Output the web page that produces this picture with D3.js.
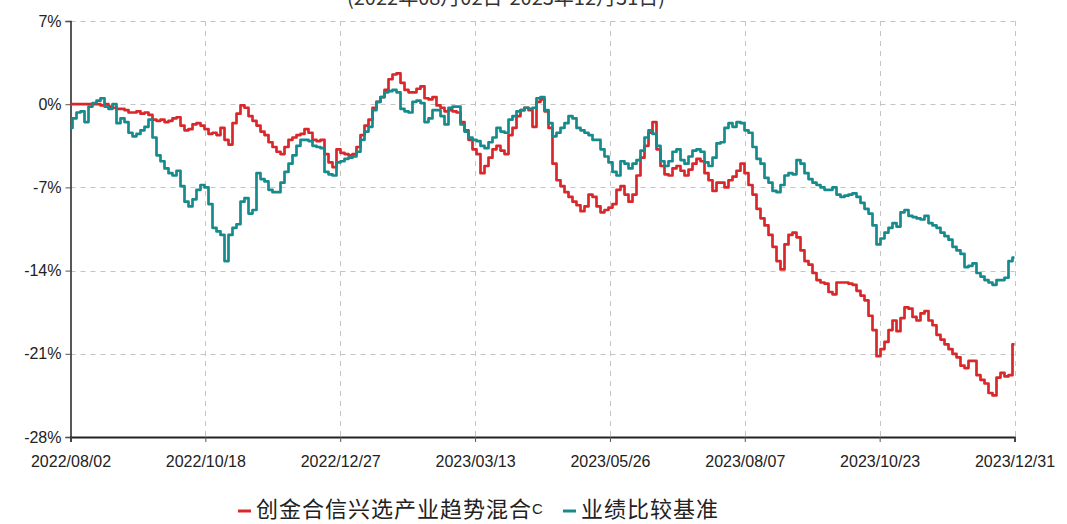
<!DOCTYPE html>
<html><head><meta charset="utf-8">
<script src="https://cdn.jsdelivr.net/npm/d3@7"></script>
<style>
html,body{margin:0;padding:0;background:#fff;overflow:hidden;}
svg{display:block;}
</style></head>
<body>
<svg id="chart" width="1067" height="524"></svg>
<script>
const titleText = "(2022年08月02日-2023年12月31日)";
const seriesNames = ["创金合信兴选产业趋势混合", "业绩比较基准"];
const tickLabels = ["2022/08/02","2022/10/18","2022/12/27","2023/03/13","2023/05/26","2023/08/07","2023/10/23","2023/12/31"];
const yTicks = [7, 0, -7, -14, -21, -28];

const fundValues = [
0,0,0,0,0,0,0,0,-0.1,0,
-0.2,-0.3,-0.4,-0.4,-0.5,-0.7,-0.7,-0.6,-0.8,-0.7,
-0.9,-1.3,-1.4,-1.3,-1.5,-1.4,-1.2,-1.1,-1.8,-2.2,
-2.1,-1.7,-1.6,-1.8,-2.1,-2.5,-2.4,-2.6,-2.0,-3.0,
-3.4,-1.6,-0.8,-0.1,-0.3,-1.0,-1.4,-1.8,-2.3,-2.6,
-3.2,-3.6,-4.0,-4.2,-3.6,-3.0,-2.8,-2.6,-2.5,-2.1,
-2.4,-3.0,-3.1,-3.0,-4.2,-4.9,-5.3,-3.8,-4.1,-4.2,
-4.3,-4.2,-3.6,-2.6,-1.8,-1.3,-0.3,0.2,0.6,1.2,
2.1,2.5,2.6,1.8,1.2,1.0,1.0,1.3,1.5,0.5,
0.4,0.6,-0.1,-0.3,-0.6,-0.5,-0.6,-0.7,-1.5,-2.2,
-3.0,-3.8,-4.2,-5.8,-5.2,-4.5,-3.8,-3.5,-3.9,-4.2,
-2.6,-2.0,-1.0,-0.5,-0.3,-0.5,-1.9,0.2,0.4,-0.6,
-2.0,-5.0,-6.4,-6.9,-7.4,-7.8,-8.2,-8.5,-9.0,-8.6,
-7.6,-7.8,-8.6,-9.1,-8.9,-8.7,-8.4,-7.2,-6.9,-7.6,
-8.2,-7.6,-6.0,-4.5,-3.5,-2.4,-1.5,-3.8,-5.2,-5.9,
-6.0,-5.4,-5.2,-5.6,-6.0,-5.5,-5.0,-4.6,-4.8,-5.8,
-6.4,-7.3,-6.6,-6.6,-7.0,-6.4,-6.1,-5.6,-5.0,-5.8,
-6.8,-7.6,-8.8,-9.6,-10.2,-11.0,-12.0,-13.2,-13.9,-11.8,
-11.0,-10.8,-11.2,-12.3,-13.2,-13.5,-14.2,-14.8,-15.0,-15.1,
-15.8,-16.0,-15.0,-15.0,-15.0,-15.1,-15.2,-15.7,-16.1,-16.5,
-17.8,-19.0,-21.2,-20.6,-20.0,-19.0,-18.2,-19.1,-18.0,-17.1,
-17.2,-17.9,-18.2,-17.6,-17.4,-18.2,-18.6,-19.4,-19.8,-20.2,
-20.6,-21.0,-21.3,-22.0,-22.2,-21.6,-21.6,-22.8,-23.2,-23.5,
-24.3,-24.5,-23.0,-22.6,-22.9,-22.8,-20.2
];

const benchValues = [
-2.0,-1.2,-0.7,-0.6,-1.5,-0.2,0.1,0.3,0.5,-0.2,
-0.4,0.0,-1.6,-1.2,-1.5,-2.4,-2.7,-2.5,-2.2,-1.9,
-1.3,-2.8,-4.3,-4.8,-5.4,-5.8,-6.0,-5.6,-6.9,-8.2,
-8.6,-8.0,-7.2,-6.8,-7.0,-8.4,-10.4,-10.7,-11.0,-13.2,
-11.0,-10.4,-10.1,-8.2,-7.9,-9.2,-8.9,-5.8,-6.3,-6.5,
-7.2,-7.4,-7.4,-6.6,-5.7,-5.0,-4.3,-3.5,-3.0,-3.0,
-3.1,-3.5,-3.6,-3.7,-5.7,-5.9,-6.0,-4.9,-4.8,-4.6,
-4.5,-4.4,-4.0,-3.0,-2.3,-1.9,-0.5,0.2,0.6,1.0,
1.1,1.2,1.0,-0.4,-0.6,-0.7,0.2,0.3,0.1,-1.5,
-1.2,-0.5,-0.5,-1.0,-1.7,-0.3,-0.2,-0.2,-1.7,-2.3,
-2.8,-3.0,-3.1,-3.5,-3.7,-3.2,-2.8,-2.0,-2.3,-2.4,
-1.3,-1.0,-0.6,-0.5,-0.3,-0.4,-0.3,0.5,0.6,-0.5,
-1.6,-2.7,-2.4,-2.0,-1.6,-1.0,-1.2,-2.0,-2.2,-2.4,
-2.6,-3.0,-3.0,-3.8,-4.4,-4.9,-5.7,-6.0,-4.8,-5.0,
-5.4,-5.0,-4.7,-3.9,-2.8,-2.2,-2.5,-3.5,-4.8,-5.2,
-4.8,-4.0,-3.8,-4.7,-5.0,-4.4,-3.9,-3.8,-4.0,-4.9,
-5.2,-4.5,-3.3,-3.2,-2.0,-1.6,-1.9,-1.5,-1.6,-2.2,
-2.4,-3.6,-4.6,-5.0,-6.2,-6.6,-7.3,-7.4,-6.8,-6.0,
-5.8,-5.9,-4.7,-5.0,-5.8,-6.3,-6.6,-6.8,-7.0,-7.2,
-7.2,-7.0,-7.6,-7.8,-7.7,-7.6,-7.5,-7.8,-8.3,-8.8,
-9.2,-10.2,-11.8,-11.3,-10.8,-10.4,-10.0,-10.3,-9.1,-8.9,
-9.4,-9.5,-9.6,-9.7,-9.4,-10.0,-10.2,-10.4,-10.8,-11.1,
-11.4,-12.0,-12.3,-12.6,-13.7,-13.6,-13.4,-14.2,-14.5,-14.8,
-15.0,-15.2,-14.8,-14.8,-14.6,-13.2,-12.9
];

const colors = ["#d8282b", "#178b8b"];
const W = 1067, H = 524;
const margin = {left: 70.5, right: 52.5, top: 21, bottom: 87};
const svg = d3.select("#chart");
const font = "Arial, 'Liberation Sans', sans-serif";
const cjk = "'Noto Sans CJK SC', sans-serif";

const N = fundValues.length;
const x = d3.scaleLinear().domain([0, N - 1]).range([margin.left, W - margin.right]);
const y = d3.scaleLinear().domain([-28, 7]).range([H - margin.bottom, margin.top]);

const tickIdx = tickLabels.map((d, i) => i * (N - 1) / (tickLabels.length - 1));

// grid
const grid = svg.append("g");
grid.selectAll("line.h").data(yTicks.filter(v => v !== -28)).enter().append("line")
  .attr("x1", margin.left).attr("x2", W - margin.right)
  .attr("y1", d => Math.round(y(d)) + 0.5).attr("y2", d => Math.round(y(d)) + 0.5)
  .attr("stroke", "#c4c4c4").attr("stroke-width", 1).attr("stroke-dasharray", "5,5");
grid.selectAll("line.v").data(tickIdx.slice(1)).enter().append("line")
  .attr("x1", d => Math.round(x(d)) + 0.5).attr("x2", d => Math.round(x(d)) + 0.5)
  .attr("y1", margin.top).attr("y2", H - margin.bottom)
  .attr("stroke", "#c4c4c4").attr("stroke-width", 1).attr("stroke-dasharray", "5,5");

// axes
const yAxis = d3.axisLeft(y).tickValues(yTicks).tickFormat(d => d + "%").tickSize(5).tickPadding(4);
const gy = svg.append("g").attr("transform", `translate(${margin.left},0)`).call(yAxis);
gy.select(".domain").attr("stroke", "#222").attr("stroke-width", 1.5);
gy.selectAll(".tick line").attr("stroke", "#555");
gy.selectAll("text").attr("font-family", font).attr("font-size", 16).attr("fill", "#222");

const xAxis = d3.axisBottom(x).tickValues(tickIdx).tickFormat((d, i) => tickLabels[i]).tickSize(5).tickPadding(14);
const gx = svg.append("g").attr("transform", `translate(0,${H - margin.bottom})`).call(xAxis);
gx.select(".domain").attr("stroke", "#222").attr("stroke-width", 1.8);
gx.selectAll(".tick line").attr("stroke", "#555");
gx.selectAll("text").attr("font-family", font).attr("font-size", 16).attr("fill", "#222");

// lines
const line = d3.line().x((d, i) => x(i)).y(d => y(d)).curve(d3.curveStep);
[fundValues, benchValues].forEach((vals, k) => {
  svg.append("path").datum(vals).attr("d", line)
    .attr("fill", "none").attr("stroke", colors[k]).attr("stroke-width", 2.7)
    .attr("stroke-linejoin", "round");
});

// title (partly above the visible area, as in the reference)
svg.append("text").attr("x", 506).attr("y", 5).attr("text-anchor", "middle")
  .attr("font-family", cjk).attr("font-size", 20).attr("fill", "#333")
  .text(titleText);

// legend
const legend = svg.append("g");
legend.append("line").attr("x1", 238).attr("x2", 251).attr("y1", 511).attr("y2", 511)
  .attr("stroke", colors[0]).attr("stroke-width", 3);
const t1 = legend.append("text").attr("x", 256).attr("y", 517).attr("font-family", cjk)
  .attr("font-size", 22).attr("letter-spacing", 1).attr("fill", "#222");
t1.append("tspan").text(seriesNames[0]);
t1.append("tspan").attr("font-size", 15).attr("font-family", font).attr("dy", -3).text("C");
legend.append("line").attr("x1", 563).attr("x2", 576).attr("y1", 511).attr("y2", 511)
  .attr("stroke", colors[1]).attr("stroke-width", 3);
legend.append("text").attr("x", 581).attr("y", 517).attr("font-family", cjk)
  .attr("font-size", 22).attr("letter-spacing", 1).attr("fill", "#222").text(seriesNames[1]);
</script>
</body></html>
